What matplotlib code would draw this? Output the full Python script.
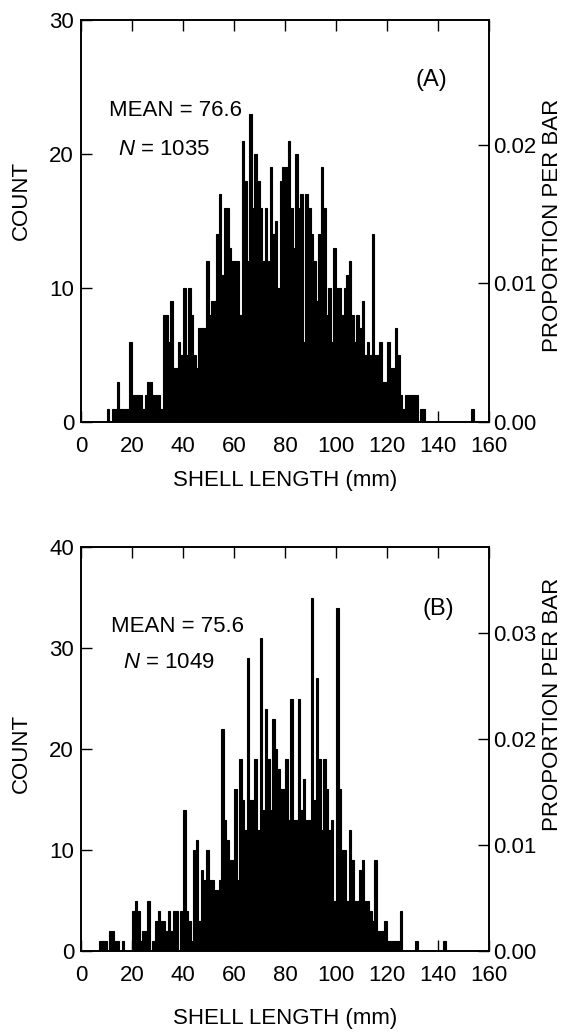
import numpy as np
import matplotlib as mpl
mpl.use('agg')
import matplotlib.pyplot as plt
from matplotlib.ticker import FormatStrFormatter

plt.rcParams['font.family'] = ['Liberation Sans', 'DejaVu Sans']
plt.rcParams['mathtext.fontset'] = 'custom'
plt.rcParams['mathtext.rm'] = 'Liberation Sans'
plt.rcParams['mathtext.it'] = 'Liberation Sans:italic'

# panel A: counts per 1 mm bin, first bin starts at 10 mm
a_start = 10
a_counts = [1, 0, 1, 1, 3, 1, 1, 1, 1, 6,
            2, 2, 2, 2, 1, 2, 3, 3, 2, 2,
            2, 1, 8, 8, 6, 9, 4, 4, 6, 5,
            10, 5, 10, 8, 5, 4, 7, 7, 7, 12,
            8, 9, 9, 14, 17, 11, 16, 16, 13, 12,
            12, 12, 8, 21, 18, 12, 23, 16, 20, 18,
            16, 12, 16, 12, 19, 14, 15, 10, 18, 19,
            19, 21, 16, 13, 20, 16, 17, 6, 17, 16,
            14, 12, 9, 14, 19, 16, 8, 10, 6, 13,
            10, 10, 8, 10, 11, 12, 8, 6, 8, 7,
            9, 5, 6, 5, 14, 5, 5, 6, 3, 3,
            6, 4, 4, 7, 5, 2, 1, 2, 2, 2,
            2, 2, 0, 1, 1, 0, 0, 0, 0, 0,
            0, 0, 0, 0, 0, 0, 0, 0, 0, 0,
            0, 0, 0, 1]
a_n = 1035
a_mean = 76.6

# panel B: counts per 1 mm bin, first bin starts at 7 mm
b_start = 7
b_counts = [1, 1, 1, 0, 2, 2, 1, 1, 0, 1,
            0, 0, 0, 4, 5, 4, 1, 2, 2, 5,
            0, 1, 3, 4, 3, 3, 2, 4, 2, 4,
            4, 0, 4, 14, 4, 3, 1, 10, 11, 3,
            8, 7, 10, 7, 7, 6, 6, 7, 22, 13,
            11, 9, 9, 16, 7, 19, 15, 12, 29, 15,
            15, 19, 12, 31, 14, 24, 19, 14, 23, 20,
            18, 16, 16, 19, 13, 25, 13, 13, 25, 14,
            17, 13, 13, 35, 15, 27, 19, 12, 19, 16,
            12, 13, 5, 34, 16, 10, 10, 5, 12, 9,
            5, 5, 8, 9, 5, 5, 4, 3, 9, 2,
            2, 2, 3, 1, 1, 1, 1, 1, 4, 0,
            0, 0, 0, 0, 1, 0, 0, 0, 0, 0,
            0, 0, 0, 0, 0, 1]
b_n = 1049
b_mean = 75.6

x_ticks = [0, 20, 40, 60, 80, 100, 120, 140, 160]
a_yticks = [0, 10, 20, 30]
b_yticks = [0, 10, 20, 30, 40]
a_pticks = [0.00, 0.01, 0.02]
b_pticks = [0.00, 0.01, 0.02, 0.03]

FS = 16


def draw_panel(fig, rect, start, counts, n, mean, ymax, yticks, pticks, letter,
               txt_pos, letter_pos, count_y, prop_y, xlab_y):
    ax = fig.add_axes(rect)
    edges = np.arange(start, start + len(counts))
    ax.bar(edges, counts, width=1.0, align='edge', color='black',
           edgecolor='black', linewidth=0.8)
    ax.set_xlim(0, 160)
    ax.set_ylim(0, ymax)
    ax.set_xticks(x_ticks)
    ax.set_yticks(yticks)
    ax.tick_params(axis='both', direction='in', length=8, width=1.0,
                   labelsize=FS, top=True)
    ax.tick_params(axis='x', pad=10)
    ax.tick_params(axis='y', pad=5)
    for s in ax.spines.values():
        s.set_linewidth(1.2)

    ax2 = ax.twinx()
    ax2.set_ylim(0, ymax / n)
    ax2.set_yticks(pticks)
    ax2.yaxis.set_major_formatter(FormatStrFormatter('%.2f'))
    ax2.tick_params(axis='y', direction='in', length=8, width=1.0,
                    labelsize=FS, pad=3)
    for s in ax2.spines.values():
        s.set_linewidth(1.2)

    ax.text(txt_pos[0], txt_pos[1], "MEAN = %.1f" % mean, transform=ax.transAxes,
            fontsize=FS, ha='left', va='center')
    ax.text(txt_pos[2], txt_pos[3], "$N$ = %d" % n, transform=ax.transAxes,
            fontsize=FS, ha='left', va='center')
    ax.text(letter_pos[0], letter_pos[1], letter, transform=ax.transAxes,
            fontsize=FS + 1, ha='center', va='center')
    ax.text(-0.145, count_y, "COUNT", transform=ax.transAxes, rotation=90,
            fontsize=FS, ha='center', va='center')
    ax.text(1.155, prop_y, "PROPORTION PER BAR", transform=ax.transAxes,
            rotation=90, fontsize=FS, ha='center', va='center')
    ax.text(0.5, xlab_y, "SHELL LENGTH (mm)", transform=ax.transAxes,
            fontsize=FS, ha='center', va='center')
    return ax


fig = plt.figure(figsize=(5.74, 10.32), dpi=100)
W, H = 574.0, 1032.0

draw_panel(fig, [81 / W, 1 - 422 / H, 408 / W, 402 / H],
           a_start, a_counts, a_n, a_mean, 30, a_yticks, a_pticks, "(A)",
           (0.069, 0.776, 0.091, 0.677), (0.858, 0.851), 0.55, 0.49, -0.145)
draw_panel(fig, [81 / W, 1 - 951 / H, 408 / W, 404 / H],
           b_start, b_counts, b_n, b_mean, 40, b_yticks, b_pticks, "(B)",
           (0.074, 0.802, 0.103, 0.713), (0.875, 0.847), 0.49, 0.61, -0.166)

fig.savefig("out.png", dpi=100)
